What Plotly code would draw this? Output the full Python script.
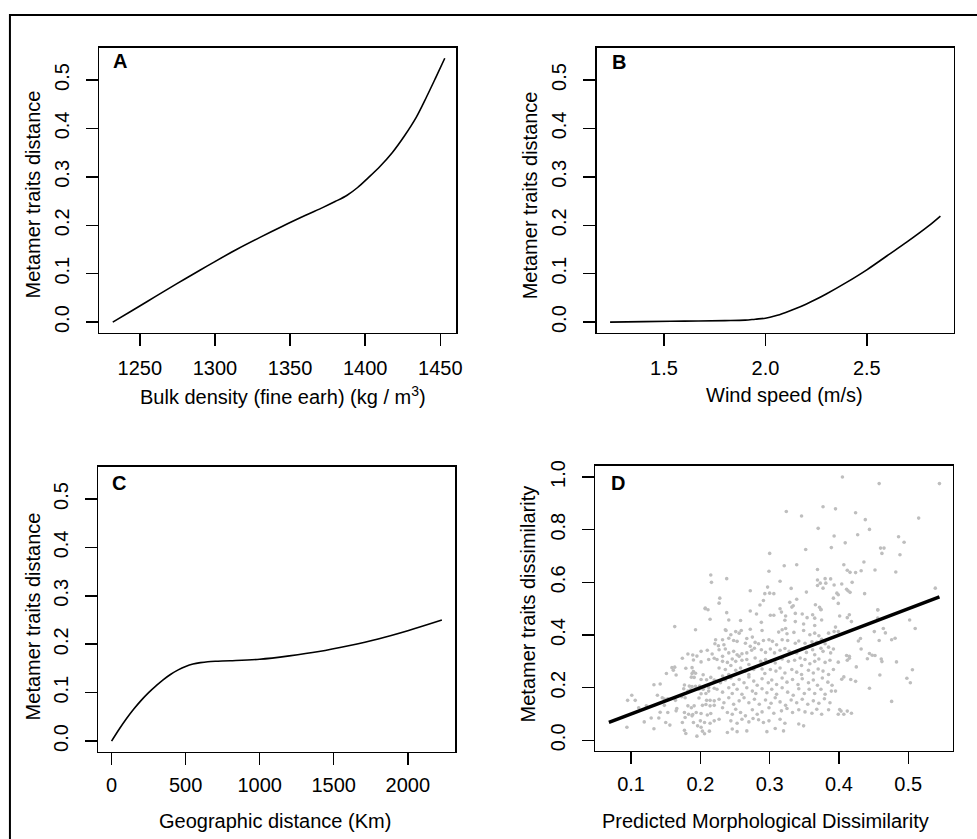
import plotly.graph_objects as go

W, H = 977, 839
FONT = "Liberation Sans, Arial, Helvetica, sans-serif"

# ---------------- data ----------------
# Panel A: bulk density partial effect
bulk_density = [1232, 1245, 1260, 1275, 1290, 1300, 1315, 1330, 1345, 1360, 1372,
                1380, 1388, 1395, 1402, 1410, 1418, 1426, 1434, 1441, 1447, 1453]
bulk_effect = [0.000, 0.024, 0.052, 0.080, 0.107, 0.125, 0.151, 0.175, 0.198, 0.220, 0.237,
               0.249, 0.262, 0.278, 0.298, 0.322, 0.350, 0.384, 0.423, 0.466, 0.505, 0.545]

# Panel B: wind speed partial effect
wind_speed = [1.234, 1.4, 1.6, 1.8, 1.9, 1.95, 2.0, 2.05, 2.1, 2.15, 2.2, 2.25,
              2.3, 2.4, 2.5, 2.6, 2.7, 2.8, 2.863]
wind_effect = [0.000, 0.001, 0.002, 0.003, 0.004, 0.006, 0.008, 0.013, 0.020, 0.028, 0.037, 0.047,
               0.058, 0.082, 0.108, 0.137, 0.166, 0.197, 0.219]

# Panel C: geographic distance partial effect
geo_distance = [0, 50, 100, 150, 200, 250, 300, 350, 400, 450, 500, 550, 600, 650, 700,
                800, 1000, 1200, 1400, 1600, 1800, 2000, 2230]
geo_effect = [0.000, 0.024, 0.046, 0.066, 0.084, 0.100, 0.114, 0.127, 0.138, 0.147, 0.154,
              0.159, 0.162, 0.164, 0.165, 0.166, 0.169, 0.176, 0.185, 0.197, 0.211, 0.228, 0.250]

# Panel D: observed vs predicted dissimilarity (predicted, observed)
d_pairs = [
    (0.215, 0.628), (0.216, 0.600), (0.207, 0.502), (0.211, 0.496),
    (0.324, 0.869), (0.377, 0.887), (0.346, 0.852), (0.370, 0.805), (0.393, 0.776), (0.389, 0.732),
    (0.352, 0.725), (0.300, 0.710), (0.339, 0.667), (0.321, 0.663), (0.369, 0.649), (0.299, 0.642),
    (0.238, 0.614), (0.315, 0.604), (0.369, 0.609), (0.380, 0.614), (0.388, 0.613), (0.373, 0.597),
    (0.381, 0.597), (0.369, 0.588), (0.377, 0.578), (0.393, 0.590), (0.297, 0.582), (0.331, 0.577),
    (0.272, 0.568), (0.293, 0.557), (0.300, 0.559), (0.306, 0.557), (0.353, 0.563), (0.228, 0.540),
    (0.291, 0.531), (0.339, 0.536), (0.329, 0.524), (0.227, 0.521), (0.286, 0.514), (0.334, 0.511),
    (0.332, 0.506), (0.366, 0.515), (0.372, 0.505), (0.392, 0.540), (0.315, 0.500), (0.374, 0.496),
    (0.405, 1.000), (0.458, 0.975), (0.545, 0.975), (0.395, 0.879), (0.424, 0.864), (0.438, 0.838),
    (0.515, 0.844), (0.444, 0.801), (0.427, 0.781), (0.486, 0.773), (0.409, 0.750), (0.494, 0.752),
    (0.460, 0.730), (0.465, 0.730), (0.462, 0.710), (0.488, 0.705), (0.436, 0.677), (0.407, 0.667),
    (0.412, 0.646), (0.416, 0.638), (0.424, 0.637), (0.432, 0.644), (0.452, 0.647), (0.482, 0.639),
    (0.419, 0.600), (0.404, 0.594), (0.411, 0.574), (0.413, 0.568), (0.416, 0.562), (0.397, 0.559),
    (0.399, 0.553), (0.437, 0.557), (0.539, 0.578), (0.399, 0.520), (0.456, 0.496),
    (0.207, 0.500), (0.214, 0.460), (0.163, 0.432), (0.193, 0.420), (0.221, 0.367), (0.210, 0.342),
    (0.217, 0.328), (0.201, 0.338), (0.195, 0.320), (0.189, 0.324), (0.182, 0.328), (0.174, 0.312),
    (0.190, 0.305), (0.212, 0.307), (0.220, 0.312), (0.201, 0.298), (0.159, 0.276), (0.163, 0.278),
    (0.161, 0.266), (0.165, 0.248), (0.179, 0.274), (0.188, 0.276), (0.190, 0.261), (0.193, 0.255),
    (0.188, 0.254), (0.151, 0.254), (0.204, 0.249), (0.187, 0.240), (0.191, 0.239), (0.201, 0.231),
    (0.209, 0.230), (0.215, 0.239), (0.220, 0.229), (0.133, 0.211), (0.142, 0.214), (0.177, 0.210),
    (0.184, 0.206), (0.188, 0.204), (0.193, 0.205), (0.199, 0.206), (0.206, 0.204), (0.212, 0.201),
    (0.176, 0.196), (0.182, 0.187), (0.186, 0.192), (0.198, 0.194), (0.204, 0.194), (0.201, 0.177),
    (0.208, 0.178), (0.212, 0.187), (0.220, 0.198), (0.101, 0.171), (0.106, 0.152), (0.095, 0.152),
    (0.138, 0.171), (0.145, 0.162), (0.148, 0.157), (0.153, 0.158), (0.173, 0.166), (0.178, 0.162),
    (0.164, 0.152), (0.198, 0.161), (0.209, 0.152), (0.214, 0.152), (0.220, 0.150), (0.122, 0.131),
    (0.111, 0.124), (0.148, 0.133), (0.182, 0.131), (0.187, 0.124), (0.191, 0.131), (0.203, 0.133),
    (0.208, 0.136), (0.214, 0.131), (0.220, 0.133), (0.142, 0.107), (0.153, 0.106), (0.165, 0.112),
    (0.166, 0.121), (0.177, 0.106), (0.183, 0.099), (0.189, 0.098), (0.194, 0.106), (0.201, 0.102),
    (0.210, 0.096), (0.215, 0.102), (0.178, 0.087), (0.188, 0.093), (0.129, 0.085), (0.119, 0.070),
    (0.140, 0.085), (0.150, 0.068), (0.156, 0.058), (0.174, 0.068), (0.190, 0.068), (0.200, 0.074),
    (0.206, 0.068), (0.214, 0.065), (0.220, 0.074), (0.094, 0.050), (0.133, 0.044), (0.177, 0.038),
    (0.179, 0.026), (0.195, 0.016), (0.203, 0.035), (0.206, 0.025), (0.213, 0.035), (0.196, 0.055),
    (0.201, 0.050),
    (0.238, 0.485), (0.272, 0.491), (0.281, 0.480), (0.301, 0.475), (0.306, 0.475), (0.317, 0.487),
    (0.323, 0.472), (0.337, 0.482), (0.347, 0.480), (0.362, 0.477), (0.374, 0.497),
    (0.241, 0.457), (0.258, 0.455), (0.288, 0.448), (0.322, 0.456), (0.337, 0.451), (0.349, 0.442),
    (0.354, 0.466), (0.365, 0.464), (0.375, 0.457), (0.365, 0.436), (0.236, 0.420),
    (0.251, 0.413), (0.256, 0.407), (0.259, 0.417), (0.237, 0.417), (0.272, 0.422), (0.289, 0.417),
    (0.313, 0.411), (0.318, 0.420), (0.323, 0.425), (0.325, 0.405), (0.335, 0.410), (0.349, 0.417),
    (0.358, 0.401), (0.365, 0.407), (0.371, 0.397), (0.385, 0.407), (0.393, 0.413), (0.244, 0.401),
    (0.267, 0.387), (0.275, 0.392),
    (0.222, 0.382), (0.232, 0.382), (0.241, 0.388), (0.248, 0.379), (0.253, 0.376), (0.265, 0.369),
    (0.279, 0.372), (0.284, 0.367), (0.291, 0.379), (0.299, 0.382), (0.304, 0.376), (0.310, 0.363),
    (0.318, 0.382), (0.326, 0.379), (0.337, 0.369), (0.342, 0.377), (0.351, 0.369), (0.361, 0.374),
    (0.368, 0.372), (0.375, 0.384), (0.380, 0.367), (0.226, 0.359), (0.234, 0.363), (0.272, 0.357),
    (0.227, 0.344), (0.236, 0.347), (0.241, 0.332), (0.248, 0.338), (0.253, 0.325), (0.260, 0.329),
    (0.267, 0.332), (0.274, 0.342), (0.278, 0.350), (0.288, 0.344), (0.294, 0.334), (0.301, 0.347),
    (0.307, 0.332), (0.315, 0.342), (0.322, 0.349), (0.328, 0.338), (0.339, 0.332), (0.346, 0.347),
    (0.353, 0.334), (0.362, 0.344), (0.365, 0.325), (0.374, 0.350), (0.377, 0.338), (0.385, 0.354),
    (0.388, 0.332), (0.392, 0.347), (0.232, 0.319), (0.256, 0.319),
    (0.224, 0.307), (0.232, 0.300), (0.239, 0.296), (0.246, 0.309), (0.251, 0.300), (0.260, 0.304),
    (0.267, 0.307), (0.279, 0.313), (0.287, 0.300), (0.294, 0.307), (0.302, 0.300), (0.308, 0.294),
    (0.318, 0.309), (0.327, 0.300), (0.336, 0.304), (0.344, 0.313), (0.351, 0.307), (0.358, 0.291),
    (0.365, 0.300), (0.371, 0.309), (0.380, 0.296), (0.387, 0.304), (0.244, 0.284), (0.270, 0.288),
    (0.346, 0.284),
    (0.227, 0.275), (0.236, 0.269), (0.251, 0.266), (0.258, 0.275), (0.265, 0.263), (0.270, 0.250),
    (0.277, 0.269), (0.289, 0.271), (0.293, 0.254), (0.301, 0.269), (0.309, 0.263), (0.315, 0.275),
    (0.322, 0.256), (0.332, 0.269), (0.339, 0.259), (0.346, 0.250), (0.356, 0.266), (0.363, 0.256),
    (0.370, 0.271), (0.377, 0.263), (0.385, 0.250), (0.392, 0.269), (0.241, 0.250), (0.232, 0.244),
    (0.222, 0.225), (0.229, 0.219), (0.236, 0.229), (0.244, 0.237), (0.248, 0.212), (0.256, 0.231),
    (0.263, 0.219), (0.270, 0.241), (0.277, 0.225), (0.282, 0.209), (0.289, 0.234), (0.298, 0.219),
    (0.303, 0.229), (0.310, 0.212), (0.318, 0.237), (0.325, 0.221), (0.333, 0.231), (0.341, 0.212),
    (0.347, 0.234), (0.356, 0.219), (0.363, 0.229), (0.369, 0.209), (0.376, 0.237), (0.384, 0.221),
    (0.390, 0.209),
    (0.224, 0.194), (0.232, 0.183), (0.241, 0.200), (0.246, 0.178), (0.253, 0.194), (0.260, 0.175),
    (0.267, 0.200), (0.275, 0.187), (0.280, 0.178), (0.289, 0.196), (0.296, 0.181), (0.303, 0.194),
    (0.310, 0.175), (0.318, 0.200), (0.326, 0.183), (0.334, 0.171), (0.342, 0.196), (0.350, 0.178),
    (0.357, 0.194), (0.365, 0.178), (0.374, 0.194), (0.380, 0.175), (0.389, 0.187),
    (0.227, 0.156), (0.234, 0.143), (0.241, 0.162), (0.248, 0.137), (0.256, 0.150), (0.263, 0.162),
    (0.270, 0.143), (0.278, 0.156), (0.285, 0.137), (0.294, 0.153), (0.302, 0.141), (0.308, 0.162),
    (0.315, 0.146), (0.323, 0.133), (0.331, 0.153), (0.339, 0.143), (0.347, 0.156), (0.355, 0.137),
    (0.363, 0.150), (0.371, 0.141), (0.379, 0.158), (0.387, 0.143),
    (0.232, 0.124), (0.239, 0.106), (0.246, 0.099), (0.251, 0.118), (0.258, 0.106), (0.265, 0.093),
    (0.275, 0.116), (0.282, 0.099), (0.289, 0.108), (0.299, 0.124), (0.306, 0.103), (0.317, 0.112),
    (0.325, 0.121), (0.333, 0.106), (0.342, 0.116), (0.351, 0.108), (0.361, 0.103), (0.368, 0.118),
    (0.375, 0.099), (0.385, 0.116),
    (0.227, 0.080), (0.244, 0.074), (0.253, 0.065), (0.260, 0.080), (0.270, 0.070), (0.276, 0.083),
    (0.284, 0.078), (0.291, 0.068), (0.299, 0.074), (0.315, 0.080), (0.322, 0.065), (0.342, 0.062),
    (0.349, 0.055),
    (0.239, 0.030), (0.246, 0.043), (0.253, 0.033), (0.267, 0.036), (0.296, 0.033), (0.308, 0.045),
    (0.320, 0.036),
    (0.456, 0.495), (0.401, 0.472), (0.412, 0.466), (0.415, 0.477), (0.418, 0.451), (0.456, 0.464),
    (0.502, 0.457), (0.510, 0.425), (0.464, 0.425), (0.467, 0.408), (0.451, 0.413), (0.395, 0.430),
    (0.399, 0.413), (0.431, 0.387), (0.428, 0.377), (0.458, 0.379), (0.476, 0.382), (0.481, 0.388),
    (0.432, 0.347), (0.444, 0.330), (0.448, 0.323), (0.452, 0.322), (0.411, 0.322), (0.415, 0.319),
    (0.415, 0.312), (0.412, 0.304), (0.441, 0.310), (0.461, 0.309), (0.462, 0.299), (0.483, 0.298),
    (0.399, 0.297), (0.425, 0.279), (0.506, 0.268), (0.459, 0.248), (0.407, 0.241), (0.404, 0.232),
    (0.417, 0.231), (0.424, 0.224), (0.498, 0.236), (0.503, 0.219), (0.395, 0.187), (0.444, 0.198),
    (0.476, 0.148), (0.401, 0.117), (0.403, 0.111), (0.399, 0.099), (0.407, 0.099), (0.412, 0.111),
    (0.418, 0.103),
]
pred_morph = [p[0] for p in d_pairs]
obs_traits = [p[1] for p in d_pairs]
fit_x = [0.068, 0.545]
fit_y = [0.068, 0.545]

# ticks
a_xticks = [1250, 1300, 1350, 1400, 1450]
b_xticks = [1.5, 2.0, 2.5]
b_xlabels = ["1.5", "2.0", "2.5"]
c_xticks = [0, 500, 1000, 1500, 2000]
d_xticks = [0.1, 0.2, 0.3, 0.4, 0.5]
abc_yticks = [0.0, 0.1, 0.2, 0.3, 0.4, 0.5]
abc_ylabels = ["0.0", "0.1", "0.2", "0.3", "0.4", "0.5"]
d_yticks = [0.0, 0.2, 0.4, 0.6, 0.8, 1.0]
d_ylabels = ["0.0", "0.2", "0.4", "0.6", "0.8", "1.0"]

# ---------------- layout helpers (pixel boxes) ----------------
def xdom(p0, p1):
    return [p0 / W, p1 / W]

def ydom(p0, p1):
    return [1 - p1 / H, 1 - p0 / H]

boxes = {
    "A": (100, 459, 43, 330),
    "B": (600.5, 959.5, 43, 330),
    "C": (99, 458, 465, 752),
    "D": (599, 958.5, 464, 751),
}

def axis_style(**kw):
    d = dict(showline=True, linecolor="black", linewidth=1.5, mirror=True,
             ticks="outside", ticklen=12, tickwidth=1.5, tickcolor="black",
             showgrid=False, zeroline=False,
             tickfont=dict(family=FONT, size=20, color="black"))
    d.update(kw)
    return d

fig = go.Figure()
line_style = dict(color="black", width=1.6)
fig.add_trace(go.Scatter(x=bulk_density, y=bulk_effect, mode="lines", line_shape="spline",
                         line=line_style, xaxis="x", yaxis="y", showlegend=False))
fig.add_trace(go.Scatter(x=wind_speed, y=wind_effect, mode="lines", line_shape="spline",
                         line=line_style, xaxis="x2", yaxis="y2", showlegend=False))
fig.add_trace(go.Scatter(x=geo_distance, y=geo_effect, mode="lines", line_shape="spline",
                         line=line_style, xaxis="x3", yaxis="y3", showlegend=False))
fig.add_trace(go.Scatter(x=pred_morph, y=obs_traits, mode="markers",
                         marker=dict(color="#BEBEBE", size=3.6, line=dict(width=0)),
                         xaxis="x4", yaxis="y4", showlegend=False))
fig.add_trace(go.Scatter(x=fit_x, y=fit_y, mode="lines",
                         line=dict(color="black", width=3.5),
                         xaxis="x4", yaxis="y4", showlegend=False))

XSTAND_TOP, XSTAND_BOT, YSTAND = 5, 3, 9
bA, bB, bC, bD = boxes["A"], boxes["B"], boxes["C"], boxes["D"]
abc_yrange = [-0.0218, 0.5668]
fig.update_layout(
    width=W, height=H, autosize=False,
    margin=dict(l=0, r=0, t=0, b=0),
    paper_bgcolor="white", plot_bgcolor="white",
    xaxis=axis_style(domain=xdom(bA[0], bA[1]), anchor="y", range=[1223.1, 1460.6],
                     tickvals=a_xticks, ticklabelstandoff=XSTAND_TOP),
    yaxis=axis_style(domain=ydom(bA[2], bA[3]), anchor="x", range=abc_yrange,
                     tickvals=abc_yticks, ticktext=abc_ylabels, tickangle=-90,
                     ticklabelstandoff=YSTAND),
    xaxis2=axis_style(domain=xdom(bB[0], bB[1]), anchor="y2", range=[1.1686, 2.928],
                      tickvals=b_xticks, ticktext=b_xlabels, ticklabelstandoff=XSTAND_TOP),
    yaxis2=axis_style(domain=ydom(bB[2], bB[3]), anchor="x2", range=abc_yrange,
                      tickvals=abc_yticks, ticktext=abc_ylabels, tickangle=-90,
                      ticklabelstandoff=YSTAND),
    xaxis3=axis_style(domain=xdom(bC[0], bC[1]), anchor="y3", range=[-89, 2320],
                      tickvals=c_xticks, ticklabelstandoff=XSTAND_BOT),
    yaxis3=axis_style(domain=ydom(bC[2], bC[3]), anchor="x3", range=abc_yrange,
                      tickvals=abc_yticks, ticktext=abc_ylabels, tickangle=-90,
                      ticklabelstandoff=YSTAND),
    xaxis4=axis_style(domain=xdom(bD[0], bD[1]), anchor="y4", range=[0.0484, 0.564],
                      tickvals=d_xticks, ticklabelstandoff=XSTAND_BOT),
    yaxis4=axis_style(domain=ydom(bD[2], bD[3]), anchor="x4", range=[-0.039, 1.043],
                      tickvals=d_yticks, ticktext=d_ylabels, tickangle=-90,
                      ticklabelstandoff=YSTAND),
)

def ann(text, px, py, size=20, angle=0, bold=False):
    if bold:
        text = "<b>" + text + "</b>"
    fig.add_annotation(text=text, x=px / W, y=1 - py / H, xref="paper", yref="paper",
                       xanchor="center", yanchor="middle", showarrow=False, textangle=angle,
                       font=dict(family=FONT, size=size, color="black"))

# axis titles
ann("Bulk density (fine earh) (kg / m<sup>3</sup>)", 285, 393)
ann("Wind speed (m/s)", 789, 393)
ann("Geographic distance (Km)", 277, 822)
ann("Predicted Morphological Dissimilarity", 770, 822)
ann("Metamer traits distance", 33, 191, angle=-90)
ann("Metamer traits distance", 533, 192, angle=-90)
ann("Metamer traits distance", 33, 616, angle=-90)
ann("Metamer traits dissimilarity", 531, 603, angle=-90)

# panel letters
ann("A", 121, 56, size=20, bold=True)
ann("B", 623, 57, size=20, bold=True)
ann("C", 120, 481, size=20, bold=True)
ann("D", 622, 481, size=20, bold=True)

# outer frame (extends beyond the right/bottom edges of the picture)
fig.add_shape(type="rect", xref="paper", yref="paper",
              x0=10 / W, x1=1.2, y0=-0.2, y1=1 - 10 / H,
              line=dict(color="black", width=2), fillcolor="rgba(0,0,0,0)", layer="above")

# remove the browser's default page margin so figure pixels match window pixels
fig.write_html("out.html",
               config={"displayModeBar": False, "staticPlot": True},
               post_script="document.body.style.margin='0';document.body.style.overflow='hidden';")
